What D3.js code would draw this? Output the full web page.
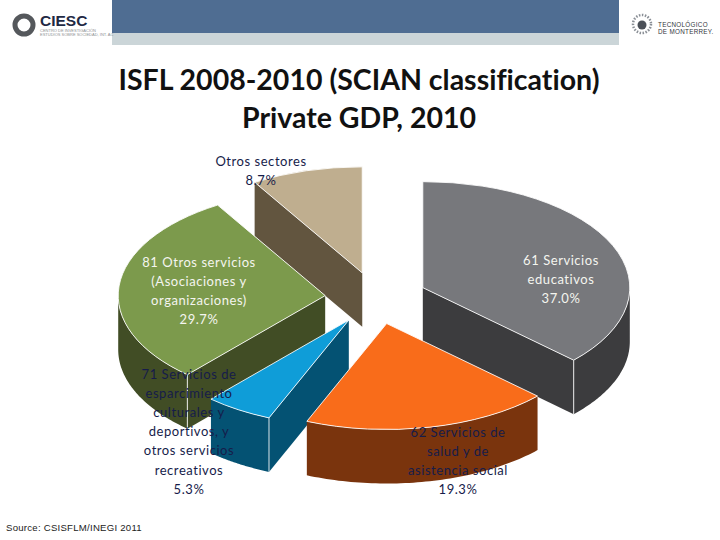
<!DOCTYPE html>
<html><head><meta charset="utf-8">
<script src="https://cdn.jsdelivr.net/npm/d3@7"></script>
<style>html,body{margin:0;padding:0;background:#fff}svg{display:block}</style>
</head><body><div id="c"></div>
<script>
const categories = ["61 Servicios educativos","62 Servicios de salud y de asistencia social","71 Servicios de esparcimiento culturales y deportivos, y otros servicios recreativos","81 Otros servicios (Asociaciones y organizaciones)","Otros sectores"];
const values = [37.0,19.3,5.3,29.7,8.7];
const labelLines = [
 ["61 Servicios","educativos","37.0%"],
 ["62 Servicios de","salud y de","asistencia social","19.3%"],
 ["71 Servicios de","esparcimiento","culturales y","deportivos, y","otros servicios","recreativos","5.3%"],
 ["81 Otros servicios","(Asociaciones y","organizaciones)","29.7%"],
 ["Otros sectores","8.7%"]];
const topColors  = ["#77787c","#f96c1a","#0f9dd8","#7c9a4c","#bfae8f"];
const sideColors = ["#3c3c3e","#7a340d","#045273","#414d25","#62553f"];
const labelColors = ["#f4f5ef","#161c4a","#161c4a","#f4f5ef","#161c4a"];
const labelAnchors = [[561,265],[458,437],[189,379],[199,267],[261,166]];
const drawOrder = [4,0,3,2,1];

const W=720,H=540,cx=376,cy=298,R=207,k=0.512,explode=51,depth=54;
const svg=d3.select("#c").append("svg").attr("width",W).attr("height",H);

// header
svg.append("rect").attr("x",112).attr("y",0).attr("width",507).attr("height",33).attr("fill","#4f6d92");
svg.append("rect").attr("x",112).attr("y",33).attr("width",507).attr("height",12).attr("fill","#cbd5d8");

// CIESC logo
svg.append("circle").attr("cx",24).attr("cy",25).attr("r",9).attr("fill","#fff").attr("stroke","#55585c").attr("stroke-width",5);
svg.append("text").attr("x",40).attr("y",26).attr("font-family","Liberation Sans").attr("font-weight",700).attr("font-size",15.5).attr("fill","#1f2a44").text("CIESC");
svg.append("text").attr("x",40).attr("y",31.5).attr("font-family","Liberation Sans").attr("font-size",4).attr("fill","#8d8f92").text("CENTRO DE INVESTIGACIÓN");
svg.append("text").attr("x",40).attr("y",36).attr("font-family","Liberation Sans").attr("font-size",4).attr("fill","#8d8f92").text("ESTUDIOS SOBRE SOCIEDAD, INT. AC");

// Tec logo
svg.append("circle").attr("cx",642).attr("cy",24).attr("r",9).attr("fill","none").attr("stroke","#8a8f96").attr("stroke-width",2.5).attr("stroke-dasharray","1.5 1.5");
svg.append("circle").attr("cx",642).attr("cy",25).attr("r",4.5).attr("fill","#4b5058");
svg.append("text").attr("x",658).attr("y",27).attr("font-family","Liberation Sans").attr("font-size",6.3).attr("letter-spacing",.3).attr("fill","#33363c").text("TECNOLÓGICO");
svg.append("text").attr("x",658).attr("y",34).attr("font-family","Liberation Sans").attr("font-size",6.3).attr("letter-spacing",.3).attr("fill","#33363c").text("DE MONTERREY.");

// title
const title=svg.append("text").attr("text-anchor","middle").attr("font-family","Lato").attr("font-weight",700).attr("font-size",28.5).attr("fill","#111").style("font-variant-ligatures","none");
title.append("tspan").attr("x",359).attr("y",90).text("ISFL 2008-2010 (SCIAN classification)");
title.append("tspan").attr("x",359).attr("y",128).text("Private GDP, 2010");

// pie geometry
const pie=d3.pie().sort(null).value(d=>d).startAngle(0).endAngle(2*Math.PI);
const slices=pie(values);
const arcGen=d3.arc().innerRadius(0).outerRadius(R);
const pt=(a,r,dz=0)=>[r*Math.sin(a),-r*k*Math.cos(a)+dz];
const line=d3.line();

drawOrder.forEach(i=>{
  const s=slices[i], mid=(s.startAngle+s.endAngle)/2;
  const [ox,oy]=pt(mid,explode);
  const g=svg.append("g").attr("transform",`translate(${cx+ox},${cy+oy})`);

  // radial walls facing the viewer: a wall is seen when its outward normal points down the screen
  const walls=[[s.startAngle,-Math.sin(s.startAngle)],[s.endAngle,Math.sin(s.endAngle)]].filter(w=>w[1]>0.02);
  walls.forEach(([a])=>{
    const p=pt(a,R);
    g.append("path").attr("d",line([[0,0],p,[p[0],p[1]+depth],[0,depth]])+"Z").attr("fill",sideColors[i]);
  });

  // rim, front half only
  const a0=Math.max(s.startAngle,Math.PI/2), a1=Math.min(s.endAngle,3*Math.PI/2);
  if(a1>a0){
    const as=d3.range(0,61).map(t=>a0+(a1-a0)*t/60);
    const top=as.map(a=>pt(a,R)), bot=as.map(a=>pt(a,R,depth)).reverse();
    g.append("path").attr("d",line(top.concat(bot))+"Z").attr("fill",sideColors[i]);
    // highlight on the vertical corner between a seen wall and the rim
    walls.forEach(([a])=>{
      if(a>=a0-1e-6 && a<=a1+1e-6){
        const p=pt(a,R);
        g.append("path").attr("d",line([p,[p[0],p[1]+depth]])).attr("stroke","#fff").attr("stroke-opacity",.85).attr("fill","none");
      }
    });
  }

  // top face
  g.append("path").attr("transform",`scale(1,${k})`).attr("d",arcGen(s))
    .attr("fill",topColors[i]).attr("stroke","#fff").attr("stroke-opacity",.85)
    .attr("stroke-width",1).attr("vector-effect","non-scaling-stroke");
});

// labels
labelLines.forEach((lines,i)=>{
  const [x,y]=labelAnchors[i];
  const t=svg.append("text").attr("text-anchor","middle").attr("font-family","Lato").attr("font-size",13).attr("letter-spacing",.55)
    .attr("fill",labelColors[i]);
  lines.forEach((l,j)=>t.append("tspan").attr("x",x).attr("y",y+j*19.1).text(l));
});

// source
svg.append("text").attr("x",6).attr("y",531).attr("font-family","Liberation Sans").attr("font-size",9.6).attr("letter-spacing",.25).attr("fill","#222").text("Source: CSISFLM/INEGI 2011");
</script></body></html>
